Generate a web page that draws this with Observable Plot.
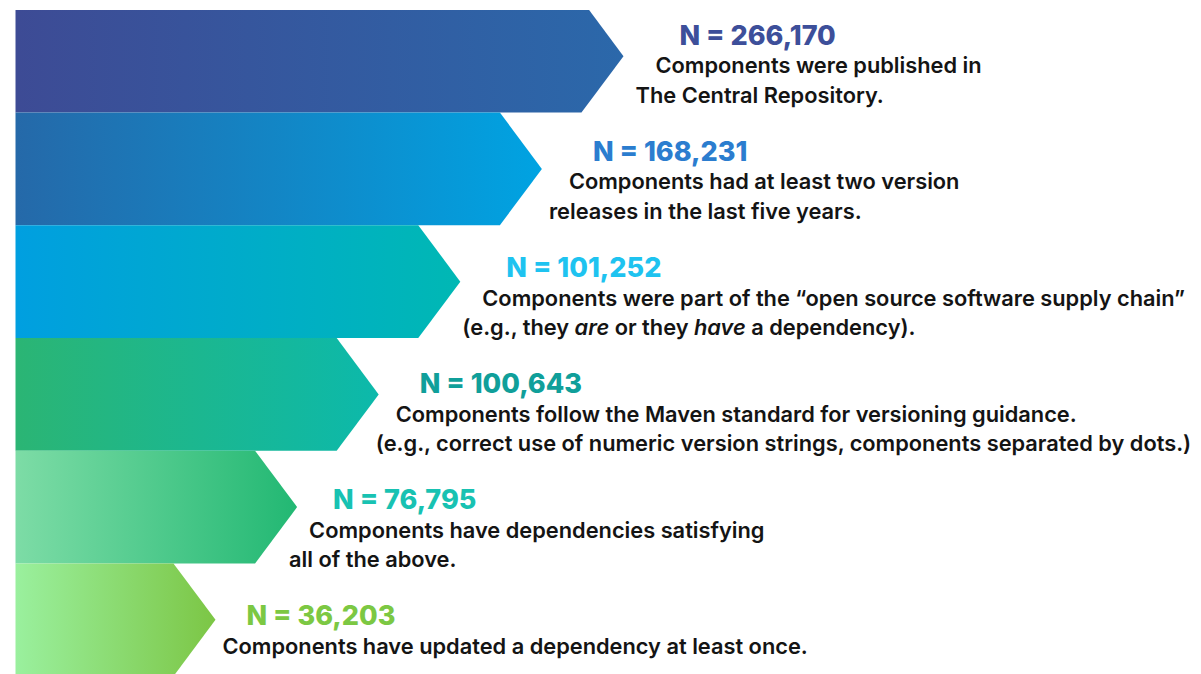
<!DOCTYPE html>
<html>
<head>
<meta charset="utf-8">
<script src="https://cdn.jsdelivr.net/npm/d3@7"></script>
<script src="https://cdn.jsdelivr.net/npm/@observablehq/plot@0.6"></script>
<style>
  html, body { margin: 0; padding: 0; background: #ffffff; }
  #chart svg { display: block; }
</style>
</head>
<body>
<div id="chart"></div>
<script>
// ---- data ----
const stages = ["published", "released", "supplyChain", "mavenStandard", "dependenciesOk", "updated"];
const counts = [266170, 168231, 101252, 100643, 76795, 36203];
const stepLength = [6, 5, 4, 3, 2, 1];
const firstLines = [
  "Components were published in",
  "Components had at least two version",
  "Components were part of the \u201copen source software supply chain\u201d",
  "Components follow the Maven standard for versioning guidance.",
  "Components have dependencies satisfying",
  "Components have updated a dependency at least once."
];
const secondLines = [
  "The Central Repository.",
  "releases in the last five years.",
  "(e.g., they *are* or they *have* a dependency).",
  "(e.g., correct use of numeric version strings, components separated by dots.)",
  "all of the above.",
  ""
];

// ---- styles ----
const gradientLeft = ["#3d4b95", "#2569a9", "#009fe0", "#2bb574", "#7ddca6", "#9af09e"];
const gradientRight = ["#2b68aa", "#00a3e2", "#00b8b4", "#0cb9ab", "#22b873", "#7cc645"];
const labelColors = ["#3d4f9a", "#2b7dcf", "#1ec3f0", "#109f9a", "#18c2b2", "#7cc843"];

const W = 1201, H = 674;
const fmt = d3.format(",");
const plain = s => s.replace(/\*/g, "");

// arrow polygons (band units: x in steps, y in rows)
const baseStart = -1.451;
const headLen = 0.515;
const arrowPoints = stages.map((s, i) => {
  const k = stepLength[i];
  return [
    {stage: s, x: baseStart, y: i},
    {stage: s, x: k - headLen, y: i},
    {stage: s, x: k, y: i + 0.5},
    {stage: s, x: k - headLen, y: i + 1},
    {stage: s, x: baseStart, y: i + 1}
  ];
});

const rows = stages.map((s, i) => ({
  stage: s,
  label: "N = " + fmt(counts[i]),
  line1: firstLines[i],
  line2: plain(secondLines[i]),
  color: labelColors[i],
  tx: 0.3186 + 1.0613 * stepLength[i],
  ty: 0.4 + 1.0297 * i
}));

const fontFamily = "Inter, 'Open Sans', sans-serif";

const plot = Plot.plot({
  width: W,
  height: H,
  marginTop: 10,
  marginBottom: 0,
  marginLeft: 0,
  marginRight: 0,
  x: {domain: [-1.6348, 13.0833], axis: null},
  y: {domain: [0.0953, 5.9845], range: [10, 674], axis: null},
  style: {fontFamily, background: "#ffffff"},
  marks: [
    ...arrowPoints.map((pts, i) => Plot.line(pts, {
      x: "x", y: "y",
      fill: `url(#grad-${i})`,
      stroke: "none",
      curve: "linear-closed",
      clip: true
    })),
    Plot.text(rows, {
      x: "tx", y: "ty", text: "label", fill: "color",
      textAnchor: "start", lineAnchor: "bottom",
      fontSize: 27, fontWeight: 800
    }),
    Plot.text(rows, {
      x: "tx", y: "ty", text: "line1", fill: "#141414",
      textAnchor: "start", lineAnchor: "bottom",
      dx: -24, dy: 28.5,
      fontSize: 21.8, fontWeight: 600
    }),
    Plot.text(rows.filter(d => d.line2), {
      x: "tx", y: "ty", text: "line2", fill: "#141414",
      textAnchor: "start", lineAnchor: "bottom",
      dx: -44, dy: 58,
      fontSize: 21.8, fontWeight: 600
    })
  ]
});

// gradients
const svg = d3.select(plot);
const defs = svg.insert("defs", ":first-child");
stages.forEach((s, i) => {
  const g = defs.append("linearGradient").attr("id", `grad-${i}`)
    .attr("x1", 0).attr("y1", 0).attr("x2", 1).attr("y2", 0);
  g.append("stop").attr("offset", "0%").attr("stop-color", gradientLeft[i]);
  g.append("stop").attr("offset", "100%").attr("stop-color", gradientRight[i]);
});

// italic words (marked with *...*)
secondLines.forEach(line => {
  if (!line.includes("*")) return;
  const target = plain(line);
  svg.selectAll("text").filter(function() { return this.textContent === target; })
    .each(function() {
      const t = d3.select(this);
      t.text(null).style("white-space", "pre");
      line.split("*").forEach((part, j) => {
        t.append("tspan").attr("font-style", j % 2 ? "italic" : null).text(part);
      });
    });
});

document.getElementById("chart").appendChild(plot);
</script>
</body>
</html>
